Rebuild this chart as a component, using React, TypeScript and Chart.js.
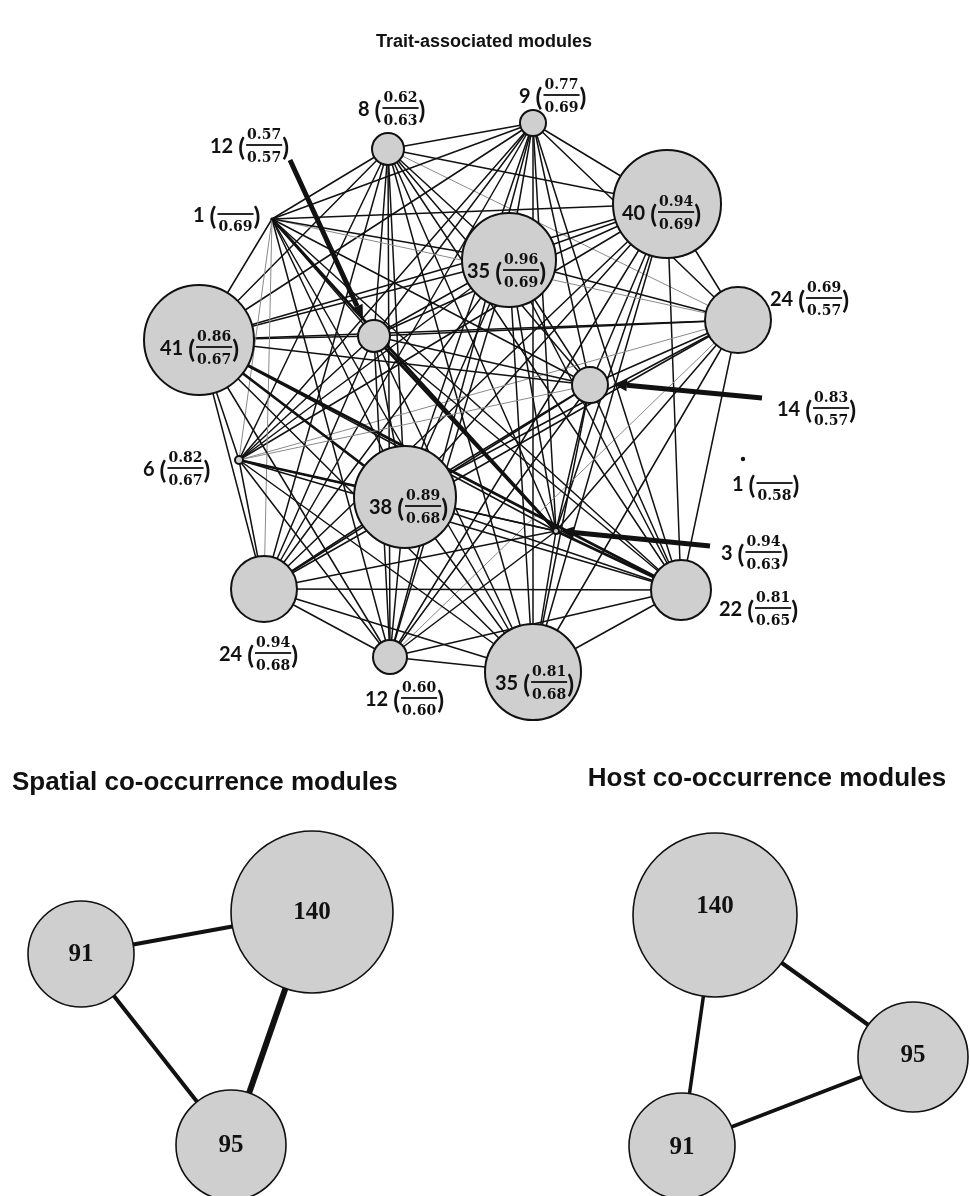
import React, { useEffect, useRef } from "react";
import { Chart, registerables } from "chart.js";
Chart.register(...registerables);

// ---------- Trait-associated modules ----------
const TRAIT_IDS = ["A", "B", "C", "D", "E", "F", "G", "H", "I", "J", "K", "L", "M", "N", "O", "P", "Q"];
const TRAIT_SIZE = [8, 9, 40, 24, 35, 12, 1, 41, 14, 1, 3, 22, 35, 12, 24, 6, 38];
const TRAIT_NUM = ["0.62", "0.77", "0.94", "0.69", "0.96", "0.57", "", "0.86", "0.83", "", "0.94", "0.81", "0.81", "0.60", "0.94", "0.82", "0.89"];
const TRAIT_DEN = ["0.63", "0.69", "0.69", "0.57", "0.69", "0.57", "0.69", "0.67", "0.57", "0.58", "0.63", "0.65", "0.68", "0.60", "0.68", "0.67", "0.68"];
const TRAIT_X = [388, 533, 667, 738, 509, 374, 272, 199, 590, 743, 556, 681, 533, 390, 264, 239, 405];
const TRAIT_Y = [149, 123, 204, 320, 260, 336, 219, 340, 385, 459, 531, 590, 672, 657, 589, 460, 497];
const TRAIT_R = [16, 13, 54, 33, 47, 16, 1.6, 55, 18, 2.2, 3, 30, 48, 17, 33, 4, 51];
const TRAIT_DOT = [false, false, false, false, false, false, true, false, false, true, false, false, false, false, false, false, false];
const LABEL_X = [358, 519, 622, 770, 467, 210, 193, 160, 777, 732, 721, 719, 495, 365, 219, 143, 369];
const LABEL_Y = [108, 95, 212, 298, 270, 145, 214, 347, 408, 483, 552, 608, 682, 698, 653, 468, 506];

// edge: two node ids + weight class (1 thin grey, 2 normal, 3 thick)
const TRAIT_EDGES = [
  "AB2", "AC2", "AD1", "AE2", "AF2", "AG2", "AH2", "AI2", "AK2", "AL2", "AM2", "AN2", "AO2", "AP2", "AQ2",
  "BC2", "BD2", "BE2", "BF2", "BG2", "BH2", "BI2", "BK2", "BL2", "BM2", "BN2", "BO2", "BP2", "BQ2",
  "CD2", "CE2", "CF2", "CG2", "CH2", "CI2", "CK2", "CL2", "CM2", "CN2", "CO2", "CP2", "CQ2",
  "DE2", "DF2", "DG1", "DH2", "DI2", "DK2", "DL2", "DM2", "DN1", "DO2", "DP1", "DQ2",
  "EF2", "EG2", "EH2", "EI2", "EK2", "EL2", "EM2", "EN2", "EO2", "EP2", "EQ2",
  "FG2", "FH2", "FI2", "FK3", "FL2", "FM2", "FN2", "FO2", "FP2", "FQ2",
  "GH2", "GI2", "GK3", "GL2", "GM2", "GN2", "GO1", "GP1", "GQ2",
  "HI2", "HK2", "HL3", "HM2", "HN2", "HO2", "HP2", "HQ3",
  "IK2", "IL2", "IM2", "IN2", "IO2", "IP1", "IQ2",
  "KL3", "KM2", "KN2", "KO2", "KP2", "KQ2",
  "LM2", "LN2", "LO2", "LP2", "LQ2",
  "MN2", "MO2", "MP2", "MQ2",
  "NO2", "NP2", "NQ2",
  "OP2", "OQ2",
  "PQ3",
];

// pointer arrows: [fromX, fromY, toX, toY]
const ARROWS = [
  [290, 160, 363, 319],
  [762, 398, 613, 384],
  [710, 546, 560, 531],
];

// ---------- Spatial / Host co-occurrence modules ----------
const SPATIAL_SIZE = [91, 140, 95];
const SPATIAL_X = [81, 312, 231];
const SPATIAL_Y = [954, 912, 1145];
const SPATIAL_R = [53, 81, 55];
const SPATIAL_EDGES = [[0, 1, 4], [0, 2, 4], [1, 2, 6]];

const HOST_SIZE = [140, 95, 91];
const HOST_X = [715, 913, 682];
const HOST_Y = [915, 1057, 1146];
const HOST_R = [82, 55, 53];
const HOST_LABEL_DY = [-9, -2, 1];
const HOST_EDGES = [[0, 1, 4], [0, 2, 3.5], [1, 2, 3.5]];

const TITLES = [
  { text: "Trait-associated modules", x: 484, y: 42, size: 18, align: "center" },
  { text: "Spatial co-occurrence modules", x: 12, y: 783, size: 26, align: "left" },
  { text: "Host co-occurrence modules", x: 767, y: 779, size: 26, align: "center" },
];

const FILL = "#cfcfcf";
const INK = "#111111";

function drawTraitLabel(ctx: CanvasRenderingContext2D, x: number, y: number, count: number, num: string, den: string) {
  ctx.save();
  ctx.fillStyle = INK;
  ctx.textBaseline = "middle";
  ctx.textAlign = "left";
  ctx.font = "bold 20px Lato";
  const s = String(count);
  ctx.fillText(s, x, y + 2);
  let cx = x + ctx.measureText(s).width + 5;
  ctx.font = "bold 25px Lato";
  ctx.fillText("(", cx, y + 3);
  cx += ctx.measureText("(").width + 1;
  ctx.font = "bold 14px 'DejaVu Serif'";
  const w = ctx.measureText("0.00").width + 2;
  ctx.textAlign = "center";
  if (num) ctx.fillText(num, cx + w / 2, y - 10);
  ctx.fillText(den, cx + w / 2, y + 13);
  ctx.fillRect(cx, y - 0.9, w, 1.8);
  cx += w;
  ctx.textAlign = "left";
  ctx.font = "bold 25px Lato";
  ctx.fillText(")", cx, y + 3);
  ctx.restore();
}

function drawArrow(ctx: CanvasRenderingContext2D, x1: number, y1: number, x2: number, y2: number) {
  const ang = Math.atan2(y2 - y1, x2 - x1);
  const headLen = 14;
  const headW = 6;
  const bx = x2 - headLen * Math.cos(ang);
  const by = y2 - headLen * Math.sin(ang);
  ctx.save();
  ctx.strokeStyle = INK;
  ctx.fillStyle = INK;
  ctx.lineWidth = 5;
  ctx.beginPath();
  ctx.moveTo(x1, y1);
  ctx.lineTo(bx, by);
  ctx.stroke();
  ctx.beginPath();
  ctx.moveTo(x2, y2);
  ctx.lineTo(bx + headW * Math.sin(ang), by - headW * Math.cos(ang));
  ctx.lineTo(bx - headW * Math.sin(ang), by + headW * Math.cos(ang));
  ctx.closePath();
  ctx.fill();
  ctx.restore();
}

const networkPlugin = {
  id: "network",
  beforeDatasetsDraw(chart: any) {
    const ctx: CanvasRenderingContext2D = chart.ctx;
    const xs = chart.scales.x;
    const ys = chart.scales.y;
    ctx.save();
    ctx.lineCap = "round";
    for (const e of TRAIT_EDGES) {
      const a = TRAIT_IDS.indexOf(e[0]);
      const b = TRAIT_IDS.indexOf(e[1]);
      const w = Number(e[2]);
      ctx.strokeStyle = w === 1 ? "#8a8a8a" : INK;
      ctx.lineWidth = w === 1 ? 1 : w === 2 ? 1.5 : 2.8;
      ctx.beginPath();
      ctx.moveTo(xs.getPixelForValue(TRAIT_X[a]), ys.getPixelForValue(TRAIT_Y[a]));
      ctx.lineTo(xs.getPixelForValue(TRAIT_X[b]), ys.getPixelForValue(TRAIT_Y[b]));
      ctx.stroke();
    }
    ctx.strokeStyle = INK;
    ctx.lineCap = "butt";
    for (const [a, b, w] of SPATIAL_EDGES) {
      ctx.lineWidth = w;
      ctx.beginPath();
      ctx.moveTo(xs.getPixelForValue(SPATIAL_X[a]), ys.getPixelForValue(SPATIAL_Y[a]));
      ctx.lineTo(xs.getPixelForValue(SPATIAL_X[b]), ys.getPixelForValue(SPATIAL_Y[b]));
      ctx.stroke();
    }
    for (const [a, b, w] of HOST_EDGES) {
      ctx.lineWidth = w;
      ctx.beginPath();
      ctx.moveTo(xs.getPixelForValue(HOST_X[a]), ys.getPixelForValue(HOST_Y[a]));
      ctx.lineTo(xs.getPixelForValue(HOST_X[b]), ys.getPixelForValue(HOST_Y[b]));
      ctx.stroke();
    }
    ctx.restore();
  },
  afterDatasetsDraw(chart: any) {
    const ctx: CanvasRenderingContext2D = chart.ctx;
    const xs = chart.scales.x;
    const ys = chart.scales.y;
    for (const [x1, y1, x2, y2] of ARROWS) {
      drawArrow(ctx, xs.getPixelForValue(x1), ys.getPixelForValue(y1), xs.getPixelForValue(x2), ys.getPixelForValue(y2));
    }
    for (let i = 0; i < TRAIT_IDS.length; i++) {
      drawTraitLabel(ctx, xs.getPixelForValue(LABEL_X[i]), ys.getPixelForValue(LABEL_Y[i]), TRAIT_SIZE[i], TRAIT_NUM[i], TRAIT_DEN[i]);
    }
    ctx.save();
    ctx.fillStyle = INK;
    ctx.textAlign = "center";
    ctx.textBaseline = "middle";
    ctx.font = "bold 25px 'Liberation Serif'";
    for (let i = 0; i < SPATIAL_SIZE.length; i++) {
      ctx.fillText(String(SPATIAL_SIZE[i]), xs.getPixelForValue(SPATIAL_X[i]), ys.getPixelForValue(SPATIAL_Y[i]) + 1);
    }
    for (let i = 0; i < HOST_SIZE.length; i++) {
      ctx.fillText(String(HOST_SIZE[i]), xs.getPixelForValue(HOST_X[i]), ys.getPixelForValue(HOST_Y[i] + HOST_LABEL_DY[i]) + 1);
    }
    for (const t of TITLES) {
      ctx.font = `bold ${t.size}px 'Liberation Sans'`;
      ctx.textAlign = t.align as CanvasTextAlign;
      ctx.fillText(t.text, xs.getPixelForValue(t.x), ys.getPixelForValue(t.y));
    }
    ctx.restore();
  },
};

export default function App() {
  const ref = useRef<HTMLCanvasElement | null>(null);
  useEffect(() => {
    if (!ref.current) return;
    const traitData = TRAIT_IDS.map((_, i) => ({ x: TRAIT_X[i], y: TRAIT_Y[i], r: TRAIT_R[i] }));
    const spatialData = SPATIAL_SIZE.map((_, i) => ({ x: SPATIAL_X[i], y: SPATIAL_Y[i], r: SPATIAL_R[i] }));
    const hostData = HOST_SIZE.map((_, i) => ({ x: HOST_X[i], y: HOST_Y[i], r: HOST_R[i] }));
    const chart: any = new Chart(ref.current, {
      type: "bubble",
      data: {
        datasets: [
          {
            label: "Trait-associated modules",
            data: traitData,
            backgroundColor: TRAIT_DOT.map((d) => (d ? INK : FILL)),
            borderColor: INK,
            borderWidth: TRAIT_DOT.map((d) => (d ? 0 : 2)),
            clip: false,
          } as any,
          {
            label: "Spatial co-occurrence modules",
            data: spatialData,
            backgroundColor: FILL,
            borderColor: INK,
            borderWidth: 1.6,
            clip: false,
          } as any,
          {
            label: "Host co-occurrence modules",
            data: hostData,
            backgroundColor: FILL,
            borderColor: INK,
            borderWidth: 1.6,
            clip: false,
          } as any,
        ],
      },
      options: {
        responsive: false,
        animation: false,
        events: [],
        layout: { padding: 0 },
        plugins: { legend: { display: false }, tooltip: { enabled: false }, title: { display: false } },
        scales: {
          x: { type: "linear", min: 0, max: 970, display: false },
          y: { type: "linear", min: 0, max: 1196, reverse: true, display: false },
        },
      },
      plugins: [networkPlugin],
    });
    // bubble overflow insets the chart area; align the scales to 1 unit = 1 px
    const ca = chart.chartArea;
    chart.options.scales.x.min = ca.left;
    chart.options.scales.x.max = ca.right;
    chart.options.scales.y.min = ca.top;
    chart.options.scales.y.max = ca.bottom;
    chart.update();
    return () => chart.destroy();
  }, []);
  return (
    <div style={{ position: "absolute", left: 0, top: 0, width: 970, height: 1196, background: "#fff" }}>
      <canvas ref={ref} width={970} height={1196} style={{ display: "block" }} />
    </div>
  );
}
